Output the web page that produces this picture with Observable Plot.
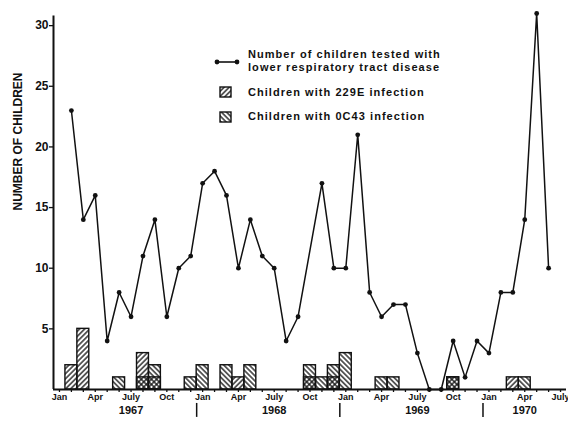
<!DOCTYPE html>
<html><head><meta charset="utf-8">
<script src="https://cdn.jsdelivr.net/npm/d3@7"></script>
<script src="https://cdn.jsdelivr.net/npm/@observablehq/plot@0.6"></script>
<style>
body{margin:0;background:#fff;}
#wrap{position:relative;width:568px;height:422px;font-family:"Liberation Sans",Arial,sans-serif;font-weight:bold;color:#111;}
.lt{position:absolute;left:248px;font-size:11px;letter-spacing:1.05px;line-height:13px;white-space:nowrap;}
.sw{position:absolute;}
</style></head><body><div id="wrap"></div>
<script>
// ---- data (months as "YYYY-MM") ----
const testedMonths = ["1967-02","1967-03","1967-04","1967-05","1967-06","1967-07","1967-08","1967-09","1967-10","1967-11","1967-12",
  "1968-01","1968-02","1968-03","1968-04","1968-05","1968-06","1968-07","1968-08","1968-09","1968-11","1968-12",
  "1969-01","1969-02","1969-03","1969-04","1969-05","1969-06","1969-07","1969-08","1969-09","1969-10","1969-11","1969-12",
  "1970-01","1970-02","1970-03","1970-04","1970-05","1970-06"];
const testedCounts = [23,14,16,4,8,6,11,14,6,10,11,
  17,18,16,10,14,11,10,4,6,17,10,
  10,21,8,6,7,7,3,0,0,4,1,4,
  3,8,8,14,31,10];

const e229Months = ["1967-02","1967-03","1967-08","1967-09","1968-04","1968-10","1968-12","1969-10","1970-03"];
const e229Counts = [2,5,3,1,1,1,1,1,1];

const oc43Months = ["1967-06","1967-08","1967-09","1967-12","1968-01","1968-03","1968-05","1968-10","1968-11","1968-12","1969-01","1969-04","1969-05","1969-10","1970-04"];
const oc43Counts = [1,1,2,1,2,2,2,2,1,2,3,1,1,1,1];

const monthNames = ["Jan","Apr","July","Oct"];
const yearLabels = ["1967","1968","1969","1970"];
const yearLabelMonths = ["1967-07","1968-07","1969-07","1970-04"];
const yearBreakMonths = ["1968-01","1969-01","1970-01"];
const yTicks = [5,10,15,20,25,30];

// month index relative to Jan 1967
const idx = s => (+s.slice(0,4) - 1967) * 12 + (+s.slice(5,7) - 1);

const tested = testedMonths.map((m,i) => ({m: idx(m), v: testedCounts[i]}));
const e229 = e229Months.map((m,i) => ({m: idx(m), v: e229Counts[i]}));
const oc43 = oc43Months.map((m,i) => ({m: idx(m), v: oc43Counts[i]}));
const allMonths = d3.range(0, 43);
const quarterMonths = d3.range(0, 43, 3);
const years = yearLabels.map((y,i) => ({y, m: idx(yearLabelMonths[i])}));
const breaks = yearBreakMonths.map(m => idx(m) - 0.5);

const ink = "#111";
const plot = Plot.plot({
  width: 568, height: 422,
  marginLeft: 53, marginRight: 2, marginTop: 13, marginBottom: 33,
  x: {type: "linear", domain: [-0.5, 42.5]},
  y: {domain: [0, 31]},
  style: {fontFamily: "Liberation Sans, Arial, sans-serif", fontWeight: "bold", color: ink, background: "white", overflow: "visible"},
  marks: [
    Plot.rect(oc43, {x1: d => d.m - 0.5, x2: d => d.m + 0.5, y1: 0, y2: "v", fill: "url(#hOC)", stroke: ink, strokeWidth: 1.4}),
    Plot.rect(e229, {x1: d => d.m - 0.5, x2: d => d.m + 0.5, y1: 0, y2: "v", fill: "url(#h229)", stroke: ink, strokeWidth: 1.4}),
    Plot.axisY({ticks: yTicks, tickSize: 4, tickPadding: 1, fontSize: 12, label: null, stroke: ink, strokeWidth: 1.3}),
    Plot.axisX({ticks: allMonths, tickSize: 3, tickFormat: () => "", label: null, stroke: ink, strokeWidth: 1.3}),
    Plot.axisX({ticks: quarterMonths, tickSize: 0, tickPadding: 4, fontSize: 9, label: null,
      tickFormat: i => monthNames[(i % 12) / 3]}),
    Plot.ruleX([-0.5], {y1: 0, y2: 30.8, stroke: ink, strokeWidth: 2}),
    Plot.ruleY([0], {x1: -0.5, x2: 42.5, stroke: ink, strokeWidth: 2}),
    Plot.text(["NUMBER OF CHILDREN"], {frameAnchor: "left", dx: -35, dy: 9, rotate: -90, fontSize: 12, fill: ink}),
    Plot.text(years, {x: "m", text: "y", frameAnchor: "bottom", dy: 24, fontSize: 11, fill: ink}),
    Plot.ruleX(breaks, {y1: -1.15, y2: -2.3, stroke: ink, strokeWidth: 1.5}),
    Plot.line(tested, {x: "m", y: "v", stroke: ink, strokeWidth: 1.5}),
    Plot.dot(tested, {x: "m", y: "v", r: 2.4, fill: ink})
  ]
});

const defs = `<defs>
<pattern id="h229" patternUnits="userSpaceOnUse" width="3.6" height="3.6" patternTransform="rotate(45)">
<line x1="0.9" y1="0" x2="0.9" y2="3.6" stroke="${ink}" stroke-width="1.3"/></pattern>
<pattern id="hOC" patternUnits="userSpaceOnUse" width="3.6" height="3.6" patternTransform="rotate(-45)">
<line x1="0.9" y1="0" x2="0.9" y2="3.6" stroke="${ink}" stroke-width="1.3"/></pattern>
</defs>`;
plot.insertAdjacentHTML("afterbegin", defs);

const wrap = document.getElementById("wrap");
wrap.appendChild(plot);

const legendHTML = `
<svg class="sw" style="left:214px;top:57px" width="26" height="10"><line x1="3" y1="5" x2="23" y2="5" stroke="${ink}" stroke-width="1.6"/><circle cx="3" cy="5" r="2.4" fill="${ink}"/><circle cx="23" cy="5" r="2.4" fill="${ink}"/></svg>
<div class="lt" style="top:48px">Number of children tested with<br>lower respiratory tract disease</div>
<svg class="sw" style="left:219px;top:86px" width="13" height="12"><rect x="1" y="1" width="11" height="10" fill="url(#h229)" stroke="${ink}" stroke-width="1.4"/></svg>
<div class="lt" style="top:86px">Children with 229E infection</div>
<svg class="sw" style="left:219px;top:111px" width="13" height="12"><rect x="1" y="1" width="11" height="10" fill="url(#hOC)" stroke="${ink}" stroke-width="1.4"/></svg>
<div class="lt" style="top:110px">Children with 0C43 infection</div>`;
wrap.insertAdjacentHTML("beforeend", legendHTML);
</script>
</body></html>
